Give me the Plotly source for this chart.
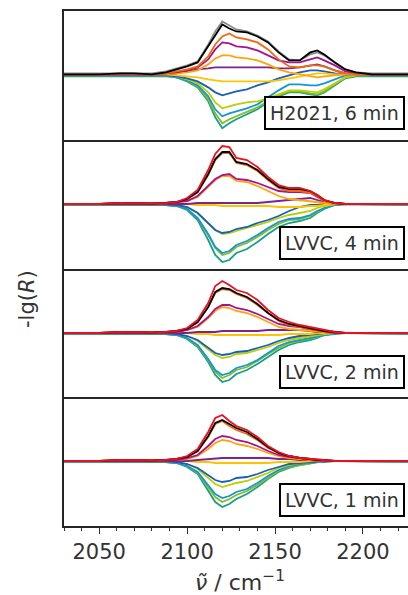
import plotly.graph_objects as go

# wavenumber grid (cm^-1)
WAVENUMBER = [2030, 2050, 2062, 2070, 2080, 2088, 2094, 2100, 2106, 2112, 2116, 2120, 2124, 2128,
              2134, 2140, 2146, 2152, 2158, 2164, 2170, 2174, 2178, 2184, 2190, 2196, 2205, 2226]

PANEL_LABELS = ["H2021, 6 min", "LVVC, 4 min", "LVVC, 2 min", "LVVC, 1 min"]

# ---- panel 1: H2021, 6 min (values in arbitrary units of -lg(R)) ----
P1_GRAY = [1, 1, 1.5, 1.5, 1, 3, 6, 9, 13, 30, 43, 53, 49, 45, 43, 39, 33, 23, 15, 14, 20, 22, 19, 12, 5, 2, 1, 1]
P1_BLACK = [0, 0, 1, 1, 0, 2, 5, 8, 12, 28, 40, 50, 46, 43, 42, 38, 32, 22, 14, 14, 22, 24, 20, 12, 5, 2, 0, 0]
P1_DORANGE = [0, 0, 1, 0.5, 0, 1, 3, 5, 8, 18, 30, 38, 41, 37, 35, 32, 25, 15, 8, 7, 9, 9, 8, 4, 1, 0, 0, 0]
P1_MAGENTA = [0, 0, 0.5, 0, 0, 1, 2, 4, 7, 15, 25, 32, 31, 28, 27, 24, 19, 14, 12, 12, 15, 17, 14, 9, 3, 1, 0, 0]
P1_ORANGE = [0, 0, 0.5, 0, 0, 0, 1, 2, 4, 10, 16, 19, 19, 17, 16, 14, 10, 5, 2, 0, -2, -3, -2, -1, 0, 0, 0, 0]
P1_PURPLE = [0, 0, 0, 0, 0, 0, 1, 3, 5, 6, 7, 7, 7, 7, 7, 7, 7, 6, 6, 7, 9, 10, 8, 4, 1, 0, 0, 0]
P1_GOLD = [0, 0, 0, 0, 0, 0, -1, -2, -3, -5, -6, -7, -7, -7, -7, -7, -7, -6, -4, -2, 0, 1, 1, 0, 0, 0, 0, 0]
P1_BLUE = [-1, -1, -1, -1, -1, -1, -2, -4, -7, -13, -18, -21, -19, -17, -15, -11, -8, -4, -1, 2, 4, 4, 3, 1, 0, 0, -1, -1]
P1_YGREEN = [-1, -1, -1, -1, -1, -1, -2, -5, -9, -18, -28, -34, -32, -30, -28, -27, -24, -20, -16, -16, -17, -18, -15, -9, -3, -1, -1, -1]
P1_LBLUE = [-1, -1, -1, -1, -1, -1, -3, -6, -11, -22, -35, -42, -39, -37, -34, -30, -23, -16, -10, -10, -11, -11, -9, -5, -1, -1, -1, -1]
P1_GREEN = [-1, -1, -1, -1, -1, -1, -3, -6, -12, -25, -39, -49, -45, -42, -38, -33, -27, -21, -17, -17, -19, -20, -17, -10, -3, -1, -1, -1]
P1_TEAL = [-2, -2, -2, -2, -2, -2, -3, -7, -13, -27, -43, -54, -49, -45, -40, -35, -28, -22, -18, -18, -20, -21, -18, -11, -4, -2, -2, -2]

# ---- panel 2: LVVC, 4 min ----
P2_RED = [0, 0, 1, 0.5, 0.5, 1, 2, 6, 14, 34, 50, 58, 57, 46, 44, 37, 27, 19, 16, 16, 13, 9, 4, 1, 0, 0, 0, 0]
P2_BLACK = [0, 0, 1, 0.5, 0.5, 1, 2, 5, 12, 30, 45, 52, 52, 42, 40, 34, 25, 17, 15, 15, 13, 9, 4, 1, 0, 0, 0, 0]
P2_DORANGE = [0, 0, 1, 0.5, 0.5, 1, 2, 5, 12, 29, 44, 51, 51, 41, 39, 33, 24, 16, 13, 13, 11, 8, 3, 1, 0, 0, 0, 0]
P2_MAGENTA = [0, 0, 0.5, 0.5, 0, 1, 2, 3, 8, 18, 25, 29, 30, 25, 24, 21, 17, 13, 12, 12, 11, 7, 3, 1, 0, 0, 0, 0]
P2_ORANGE = [0, 0, 0.5, 0.5, 0, 1, 2, 3, 7, 17, 24, 28, 28, 23, 22, 18, 13, 8, 5, 4, 3, 2, 1, 0, 0, 0, 0, 0]
P2_PURPLE = [0, 0, 0, 0, 0, 0, 0, 0, 1, 1, 1, 1, 1, 1, 1, 1, 2, 3, 4, 5, 6, 4, 2, 0, 0, 0, 0, 0]
P2_GOLD = [0, 0, 0, 0, 0, 0, 0, 0, -1, -1, -1, -2, -2, -2, -2, -2, -2, -3, -3, -3, -2, -2, -1, 0, 0, 0, 0, 0]
P2_BLUE = [0, 0, -0.5, -0.5, -0.5, -0.5, -1, -3, -9, -19, -26, -29, -28, -25, -23, -19, -16, -12, -7, -3, -1, -1, 0, 0, 0, 0, 0, 0]
P2_YGREEN = [0, 0, -0.5, -0.5, -0.5, -0.5, -1, -3, -9, -19, -26, -30, -29, -27, -24, -21, -18, -14, -11, -9, -7, -4, -2, 0, 0, 0, 0, 0]
P2_LBLUE = [-0.5, -0.5, -1, -1, -1, -1, -2, -5, -14, -30, -43, -49, -47, -41, -37, -31, -24, -18, -15, -14, -11, -7, -4, -1, 0, 0, 0, -0.5]
P2_GREEN = [-0.5, -0.5, -1, -1, -1, -1, -2, -5, -14, -31, -44, -51, -49, -43, -39, -33, -26, -20, -16, -15, -12, -8, -4, -1, 0, 0, 0, -0.5]
P2_TEAL = [-1, -1, -1, -1, -1, -1, -2, -6, -16, -36, -51, -58, -56, -49, -45, -38, -30, -23, -19, -17, -14, -9, -5, -1, 0, 0, -0.5, -1]

# ---- panel 3: LVVC, 2 min ----
P3_RED = [0, 0, 1, 0.5, 0.5, 1, 2, 5, 13, 30, 47, 52, 48, 43, 40, 33, 23, 15, 11, 8, 6, 4, 3, 1, 0, 0, 0, 0]
P3_BLACK = [0, 0, 1, 0.5, 0.5, 1, 2, 4, 11, 26, 41, 45, 44, 40, 36, 29, 20, 13, 9, 7, 5, 4, 2, 1, 0, 0, 0, 0]
P3_DORANGE = [0, 0, 1, 0.5, 0.5, 1, 2, 4, 11, 26, 40, 44, 43, 39, 35, 28, 20, 12, 8, 6, 4, 3, 2, 1, 0, 0, 0, 0]
P3_MAGENTA = [0, 0, 0.5, 0.5, 0, 1, 1, 3, 7, 16, 24, 28, 28, 25, 23, 19, 14, 9, 7, 6, 4, 3, 2, 0, 0, 0, 0, 0]
P3_ORANGE = [0, 0, 0.5, 0.5, 0, 1, 1, 3, 6, 15, 22, 26, 25, 22, 20, 16, 11, 6, 4, 3, 2, 1, 1, 0, 0, 0, 0, 0]
P3_PURPLE = [0, 0, 0, 0, 0, 0, 0, 0, 1, 1, 1, 2, 2, 2, 2, 2, 3, 3, 3, 3, 2, 1, 1, 0, 0, 0, 0, 0]
P3_GOLD = [0, 0, 0, 0, 0, 0, 0, 0, -1, -1, -2, -2, -2, -2, -2, -2, -2, -2, -1, -1, -1, 0, 0, 0, 0, 0, 0, 0]
P3_BLUE = [0, 0, -0.5, -0.5, -0.5, -0.5, -1, -3, -7, -15, -20, -22, -21, -19, -18, -15, -12, -8, -5, -3, -2, -1, 0, 0, 0, 0, 0, 0]
P3_YGREEN = [0, 0, -0.5, -0.5, -0.5, -0.5, -1, -3, -8, -16, -22, -25, -24, -21, -20, -17, -14, -10, -7, -5, -3, -2, -1, 0, 0, 0, 0, 0]
P3_LBLUE = [-0.5, -0.5, -1, -1, -1, -1, -2, -5, -12, -26, -37, -42, -40, -35, -32, -27, -20, -13, -9, -7, -5, -3, -2, 0, 0, 0, 0, -0.5]
P3_GREEN = [-0.5, -0.5, -1, -1, -1, -1, -2, -5, -13, -27, -39, -45, -42, -37, -34, -28, -21, -15, -10, -8, -6, -4, -2, 0, 0, 0, 0, -0.5]
P3_TEAL = [-1, -1, -1, -1, -1, -1, -2, -6, -14, -29, -42, -49, -47, -41, -37, -31, -24, -17, -12, -9, -7, -5, -2, -1, 0, 0, -0.5, -1]

# ---- panel 4: LVVC, 1 min ----
P4_RED = [0, 0, 1, 0.5, 0.5, 1, 2, 5, 12, 29, 43, 46, 40, 35, 31, 24, 15, 9, 5, 3, 2, 1, 1, 0, 0, 0, 0, 0]
P4_BLACK = [0, 0, 1, 0.5, 0.5, 1, 2, 4, 10, 25, 38, 41, 37, 33, 29, 22, 14, 8, 5, 3, 2, 1, 1, 0, 0, 0, 0, 0]
P4_DORANGE = [0, 0, 1, 0.5, 0.5, 1, 2, 4, 10, 24, 37, 40, 35, 31, 27, 21, 13, 8, 5, 3, 2, 1, 1, 0, 0, 0, 0, 0]
P4_MAGENTA = [0, 0, 0.5, 0.5, 0, 1, 1, 3, 6, 15, 22, 25, 24, 21, 19, 15, 10, 6, 4, 3, 2, 1, 0, 0, 0, 0, 0, 0]
P4_ORANGE = [0, 0, 0.5, 0.5, 0, 1, 1, 2, 5, 12, 18, 21, 20, 17, 15, 12, 8, 5, 3, 2, 1, 1, 0, 0, 0, 0, 0, 0]
P4_PURPLE = [0, 0, 0, 0, 0, 0, 0, 0, 1, 2, 2, 3, 3, 3, 3, 3, 3, 2, 2, 1, 1, 0, 0, 0, 0, 0, 0, 0]
P4_GOLD = [0, 0, 0, 0, 0, 0, 0, 0, -1, -1, -2, -2, -2, -2, -2, -2, -2, -1, -1, -1, 0, 0, 0, 0, 0, 0, 0, 0]
P4_BLUE = [0, 0, -0.5, -0.5, -0.5, -0.5, -1, -3, -7, -14, -19, -21, -20, -17, -16, -13, -9, -6, -3, -2, -1, 0, 0, 0, 0, 0, 0, 0]
P4_YGREEN = [0, 0, -0.5, -0.5, -0.5, -0.5, -1, -3, -8, -17, -23, -26, -24, -22, -20, -16, -12, -7, -4, -2, -1, 0, 0, 0, 0, 0, 0, 0]
P4_LBLUE = [-0.5, -0.5, -1, -1, -1, -1, -2, -5, -11, -24, -33, -37, -35, -31, -28, -22, -15, -9, -5, -3, -2, -1, 0, 0, 0, 0, 0, -0.5]
P4_GREEN = [-0.5, -0.5, -1, -1, -1, -1, -2, -5, -12, -26, -36, -41, -38, -34, -30, -24, -17, -10, -6, -4, -2, -1, 0, 0, 0, 0, 0, -0.5]
P4_TEAL = [-1, -1, -1, -1, -1, -1, -2, -6, -13, -29, -41, -46, -43, -38, -33, -26, -18, -11, -7, -4, -2, -1, -1, 0, 0, 0, -0.5, -1]

COLORS = {
    "gray": "#8a8a8a", "black": "#000000", "red": "#ec0f1f", "dorange": "#f06a0c",
    "magenta": "#a5138e", "orange": "#ffa50a", "purple": "#7b238f", "gold": "#fbc500",
    "blue": "#1a5fb4", "ygreen": "#bccf00", "lblue": "#1595d6", "green": "#86bb22",
    "teal": "#16a08a",
}

# series table: drawn bottom-to-top (negative first, top curve last)
PANELS = [
    [("teal", P1_TEAL), ("green", P1_GREEN), ("lblue", P1_LBLUE), ("ygreen", P1_YGREEN),
     ("blue", P1_BLUE), ("gold", P1_GOLD), ("purple", P1_PURPLE), ("orange", P1_ORANGE),
     ("magenta", P1_MAGENTA), ("dorange", P1_DORANGE), ("gray", P1_GRAY), ("black", P1_BLACK)],
    [("teal", P2_TEAL), ("green", P2_GREEN), ("lblue", P2_LBLUE), ("ygreen", P2_YGREEN),
     ("blue", P2_BLUE), ("gold", P2_GOLD), ("purple", P2_PURPLE), ("orange", P2_ORANGE),
     ("magenta", P2_MAGENTA), ("dorange", P2_DORANGE), ("black", P2_BLACK), ("red", P2_RED)],
    [("teal", P3_TEAL), ("green", P3_GREEN), ("lblue", P3_LBLUE), ("ygreen", P3_YGREEN),
     ("blue", P3_BLUE), ("gold", P3_GOLD), ("purple", P3_PURPLE), ("orange", P3_ORANGE),
     ("magenta", P3_MAGENTA), ("dorange", P3_DORANGE), ("black", P3_BLACK), ("red", P3_RED)],
    [("teal", P4_TEAL), ("green", P4_GREEN), ("lblue", P4_LBLUE), ("ygreen", P4_YGREEN),
     ("blue", P4_BLUE), ("gold", P4_GOLD), ("purple", P4_PURPLE), ("orange", P4_ORANGE),
     ("magenta", P4_MAGENTA), ("dorange", P4_DORANGE), ("black", P4_BLACK), ("red", P4_RED)],
]

Y_RANGES = [[-65.5, 63.5], [-64.5, 64.25], [-64.25, 64.5], [-65, 63.75]]

fig = go.Figure()
AX = "#262626"
TXT = "#333333"

for i, series in enumerate(PANELS):
    n = i + 1
    xa = "x" if n == 1 else f"x{n}"
    ya = "y" if n == 1 else f"y{n}"
    for cname, vals in series:
        fig.add_trace(go.Scatter(
            x=WAVENUMBER, y=vals, mode="lines", xaxis=xa, yaxis=ya,
            line=dict(color=COLORS[cname], width=1.8, shape="linear"),
            showlegend=False, hoverinfo="skip"))

layout = dict(
    width=408, height=595,
    margin=dict(l=64, r=0, t=11, b=69),
    paper_bgcolor="white", plot_bgcolor="white",
    font=dict(family="DejaVu Sans", color=TXT),
    showlegend=False,
)
annotations = []
for i in range(4):
    n = i + 1
    top = 1 - i * 0.25
    bot = top - 0.25
    xkey = "xaxis" if n == 1 else f"xaxis{n}"
    ykey = "yaxis" if n == 1 else f"yaxis{n}"
    last = (n == 4)
    xdict = dict(
        domain=[0, 1], range=[2030, 2225.6], anchor="y" if n == 1 else f"y{n}",
        showline=True, mirror=(n == 1), linecolor=AX, linewidth=1.8,
        showgrid=False, zeroline=False,
        showticklabels=last,
    )
    if n != 1:
        xdict["matches"] = "x"
    if last:
        xdict.update(ticks="outside", tick0=2050, dtick=50, ticklen=6, tickwidth=1.3,
                     tickcolor=TXT, tickfont=dict(size=21, color=TXT),
                     minor=dict(ticks="outside", dtick=10, tick0=2030, ticklen=3.5,
                                tickwidth=1, tickcolor=TXT, showgrid=False))
    else:
        xdict.update(ticks="")
    layout[xkey] = xdict
    layout[ykey] = dict(
        domain=[bot, top], range=Y_RANGES[i], anchor="x" if n == 1 else f"x{n}",
        showline=True, mirror=False, linecolor=AX, linewidth=1.8,
        showgrid=False, zeroline=False, showticklabels=False, ticks="",
    )
    annotations.append(dict(
        text=PANEL_LABELS[i], xref="paper", x=0.9913, xanchor="right",
        yref="y" if n == 1 else f"y{n}", y=-38.5, yanchor="middle",
        showarrow=False, font=dict(size=19, color=TXT, family="DejaVu Sans"),
        bgcolor="white", bordercolor="black", borderwidth=2, borderpad=4,
    ))

annotations.append(dict(
    text="-lg(<i>R</i>)", xref="paper", yref="paper", x=-0.1076, y=0.4408,
    xanchor="center", yanchor="middle", textangle=-90, showarrow=False,
    font=dict(size=21, color=TXT, family="DejaVu Sans")))
annotations.append(dict(
    text="<i>\u03bd\u0303</i> / cm<sup>\u22121</sup>", xref="paper", yref="paper",
    x=0.5116, y=-0.1068, xanchor="center", yanchor="middle", showarrow=False,
    font=dict(size=22, color=TXT, family="DejaVu Sans")))

layout["annotations"] = annotations
fig.update_layout(**layout)
fig.write_html("out.html")
